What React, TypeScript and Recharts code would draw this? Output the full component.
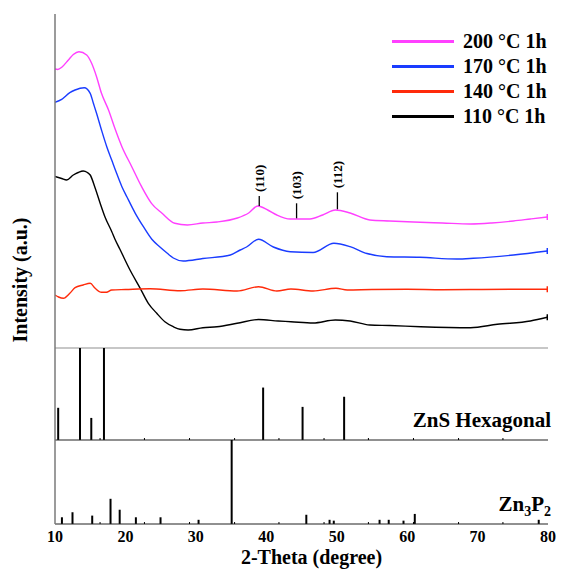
import React from 'react';
import {
  LineChart,
  Line,
  XAxis,
  YAxis,
  Legend,
  ReferenceLine,
  ReferenceDot,
  BarChart,
  Bar,
  Label,
} from 'recharts';

const FONT = "'Liberation Serif', 'Times New Roman', Times, serif";

// ---- XRD patterns (2-theta in degrees, intensity in a.u., stacked offsets included) ----
const theta200 = [10.0, 10.4, 11.0, 11.9, 12.6, 13.4, 14.5, 15.2, 15.9, 16.6, 17.6, 18.5, 19.5, 20.9, 22.3, 23.7, 25.2, 27.0, 28.8, 31.0, 33.0, 35.9, 37.5, 38.8, 40.2, 41.5, 43.4, 46.2, 48.0, 49.8, 51.9, 54.7, 57.5, 60.9, 65.0, 69.0, 72.0, 75.1, 77.5, 79.9];
const int200 = [279, 278.5, 281, 288, 293.5, 296.3, 293, 284.7, 271.3, 254.7, 238, 219.7, 201.3, 181.3, 161.3, 144.7, 134.7, 124.7, 123, 125, 126, 130, 135, 142, 138, 133, 129, 129, 133, 138, 135, 128, 127, 126, 125, 124, 125, 127, 129, 131];

const theta170 = [10.0, 10.95, 12.1, 12.85, 14.15, 15.0, 15.45, 15.9, 16.6, 17.35, 18.05, 18.75, 19.5, 20.2, 21.4, 22.55, 23.75, 24.9, 25.9, 26.8, 28.2, 31.0, 34.9, 36.3, 37.2, 38.9, 41.0, 43.4, 46.65, 49.6, 51.9, 54.3, 57.1, 61.8, 67.05, 69.4, 75.1, 79.9];
const int170 = [245.7, 248.7, 255.3, 258, 260.3, 254.7, 244.7, 234.7, 218, 201.3, 188, 174.7, 161.3, 151.3, 134.7, 121.3, 108.7, 101, 95, 90, 87, 89.5, 93, 98, 101, 108.7, 101, 96.3, 95.5, 104.7, 101.3, 94.5, 91.3, 90.7, 89, 89.7, 93, 97];

const theta140 = [10.0, 10.5, 11.2, 12.1, 12.85, 14.0, 15.0, 15.7, 16.6, 17.3, 18.05, 20.0, 23.5, 27.8, 31.0, 35.85, 38.9, 41.5, 43.5, 46.65, 49.9, 51.5, 55.0, 60.0, 65.0, 70.0, 75.0, 79.9];
const int140 = [53, 51, 49.7, 54.7, 60.3, 63, 64.7, 59.7, 55.7, 55.7, 58, 58.5, 59.3, 57.3, 59, 57, 61.3, 57, 59, 57, 59.7, 58, 58.5, 58.7, 58.3, 58.5, 58.8, 58.7];

const theta110 = [10.0, 10.95, 11.65, 12.6, 13.3, 14.0, 14.6, 15.0, 15.7, 16.4, 17.1, 18.05, 18.5, 19.2, 20.65, 22.1, 23.25, 24.45, 25.6, 26.8, 27.75, 28.9, 31.0, 33.0, 35.85, 38.9, 41.7, 43.5, 46.65, 49.8, 51.9, 54.7, 57.5, 61.9, 69.0, 72.8, 77.5, 79.9];
const int110 = [171.5, 169.5, 168, 173, 175.5, 177, 175.5, 173, 160, 145, 131, 116.5, 109, 99, 78, 59.7, 44.7, 34.7, 26.3, 21.3, 18.7, 18, 20.3, 21.3, 24.7, 28.5, 27, 26.3, 25, 28, 27, 23, 22.5, 21.3, 20.3, 23.7, 27, 30.7];

const seriesNames = ['110 °C 1h', '140 °C 1h', '170 °C 1h', '200 °C 1h'];
const seriesColors = ['#000000', '#FF2A0A', '#1A3CFF', '#FF40FF'];

// ---- peak annotations ----
const peakLabels = ['(110)', '(103)', '(112)'];
const peakTheta = [39.0, 44.3, 50.1];
const peakFrom = [142, 129.7, 138.7];
const peakTo = [152, 144.7, 155.7];

// ---- reference stick patterns ----
const znsTheta = [10.4, 13.5, 15.1, 16.9, 39.5, 45.1, 51.0];
const znsInt = [35, 100, 24, 100, 57, 36, 47];

const zn3p2Theta = [11.0, 12.5, 15.3, 17.9, 19.2, 21.5, 25.0, 30.4, 35.1, 45.7, 49.0, 49.6, 56.1, 57.4, 59.5, 61.1, 78.7];
const zn3p2Int = [8, 14, 10, 30, 17, 8, 8, 5, 100, 11, 5, 4, 5, 5, 4, 12, 5];

// ---- axis ticks ----
const majorTicks = [10, 20, 30, 40, 50, 60, 70, 80];
const minorTicks = [16.4, 22.7, 29.1, 35.5, 41.8, 48.2, 54.5, 60.9, 67.3, 73.6];

const zip = (xs: number[], ys: number[]) => xs.map((x, i) => ({ theta: x, v: ys[i] }));
const series = [
  { name: seriesNames[0], color: seriesColors[0], data: zip(theta110, int110) },
  { name: seriesNames[1], color: seriesColors[1], data: zip(theta140, int140) },
  { name: seriesNames[2], color: seriesColors[2], data: zip(theta170, int170) },
  { name: seriesNames[3], color: seriesColors[3], data: zip(theta200, int200) },
];
const znsData = znsTheta.map((t, i) => ({ theta: t, intensity: znsInt[i] }));
const zn3p2Data = zn3p2Theta.map((t, i) => ({ theta: t, intensity: zn3p2Int[i] }));

const W = 563;
// plot spans x = 55 .. 548 ; y-axis strip is 1px wide
const M = { left: 54, right: 15 };
const AXIS_GRAY = '#7a7a7a';

const endCap = (color: string, n: number) => (props: any) =>
  props.index === n - 1 ? (
    <line key={`cap-${props.index}`} x1={props.cx} x2={props.cx} y1={props.cy - 3} y2={props.cy + 3} stroke={color} strokeWidth={1.5} />
  ) : (
    <g key={`nc-${props.index}`} />
  );

const LegendBox = () => (
  <div>
    {[3, 2, 1, 0].map((i) => (
      <div key={i} style={{ display: 'flex', alignItems: 'center', height: 25 }}>
        <span style={{ display: 'inline-block', width: 62, height: 3.4, background: seriesColors[i], marginRight: 9 }} />
        <span style={{ fontFamily: FONT, fontWeight: 'bold', fontSize: 20, lineHeight: '25px', color: '#000', whiteSpace: 'nowrap' }}>
          {seriesNames[i]}
        </span>
      </div>
    ))}
  </div>
);

const minorTickShape = (props: any) => (
  <line x1={props.x} x2={props.x} y1={props.y - 2} y2={props.y} stroke="#000" strokeWidth={1} />
);

const bottomTickShape = (props: any) => {
  const v = props.payload.value;
  if (majorTicks.includes(v)) {
    return (
      <text x={props.x} y={props.y + 7} dy="0.71em" textAnchor="middle" fontFamily={FONT} fontWeight="bold" fontSize={16} fill="#000">
        {v}
      </text>
    );
  }
  return <line x1={props.x} x2={props.x} y1={props.y - 2} y2={props.y} stroke="#000" strokeWidth={1} />;
};

export default function App() {
  return (
    <div style={{ position: 'fixed', left: 0, top: 0, width: W, height: 570, background: '#fff', overflow: 'hidden' }}>
      {/* main XRD panel */}
      <div style={{ position: 'absolute', left: 0, top: 0 }}>
        <LineChart width={W} height={350} margin={{ top: 14, right: M.right, bottom: 1, left: M.left }}>
          <XAxis type="number" dataKey="theta" domain={[10, 80]} allowDataOverflow height={1} tick={false} tickLine={false} axisLine={{ stroke: '#b4b4b4', strokeWidth: 1.5 }} />
          <YAxis type="number" domain={[0, 334]} allowDataOverflow width={1} tick={false} tickLine={false} axisLine={{ stroke: AXIS_GRAY, strokeWidth: 1.5 }} />
          {series.map((s) => (
            <Line
              key={s.name}
              name={s.name}
              data={s.data}
              dataKey="v"
              type="monotone"
              stroke={s.color}
              strokeWidth={1.4}
              dot={endCap(s.color, s.data.length)}
              activeDot={false}
              isAnimationActive={false}
            />
          ))}
          {peakTheta.map((t, i) => (
            <ReferenceLine
              key={`pl-${i}`}
              segment={[
                { x: t, y: peakFrom[i] },
                { x: t, y: peakTo[i] },
              ]}
              stroke="#000"
              strokeWidth={1.3}
              ifOverflow="visible"
            />
          ))}
          {peakTheta.map((t, i) => (
            <ReferenceDot
              key={`pt-${i}`}
              x={t}
              y={peakTo[i]}
              r={0}
              ifOverflow="visible"
              shape={(p: any) => (
                <text
                  x={p.cx}
                  y={p.cy - 4}
                  transform={`rotate(-90 ${p.cx} ${p.cy - 4})`}
                  textAnchor="start"
                  dominantBaseline="central"
                  fontFamily={FONT}
                  fontWeight="bold"
                  fontSize={13}
                  fill="#000"
                >
                  {peakLabels[i]}
                </text>
              )}
            />
          ))}
          <Legend
            layout="horizontal"
            verticalAlign="middle"
            align="center"
            wrapperStyle={{ position: 'absolute', top: 29, left: 392, width: 170, height: 100 }}
            content={() => <LegendBox />}
          />
        </LineChart>
      </div>

      {/* ZnS hexagonal reference */}
      <div style={{ position: 'absolute', left: 0, top: 348 }}>
        <BarChart width={W} height={94} data={znsData} barSize={2} margin={{ top: 0, right: M.right, bottom: 1, left: M.left }}>
          <XAxis type="number" dataKey="theta" domain={[10, 80]} allowDataOverflow height={1} ticks={minorTicks} interval={0} tickLine={false} tickSize={0} tickMargin={0} tick={minorTickShape} axisLine={{ stroke: '#222', strokeWidth: 1.2 }} />
          <YAxis type="number" domain={[0, 100]} allowDataOverflow width={1} tick={false} tickLine={false} axisLine={{ stroke: AXIS_GRAY, strokeWidth: 1.5 }} />
          <Bar dataKey="intensity" fill="#000" isAnimationActive={false} />
        </BarChart>
      </div>

      {/* Zn3P2 reference */}
      <div style={{ position: 'absolute', left: 0, top: 440 }}>
        <BarChart width={W} height={130} data={zn3p2Data} barSize={2} margin={{ top: 0, right: M.right, bottom: 0, left: M.left }}>
          <XAxis
            type="number"
            dataKey="theta"
            domain={[10, 80]}
            allowDataOverflow
            height={46}
            ticks={[...majorTicks, ...minorTicks].sort((a, b) => a - b)}
            interval={0}
            tickLine={false}
            tickSize={0}
            tickMargin={0}
            tick={bottomTickShape}
            axisLine={{ stroke: '#222', strokeWidth: 1.2 }}
          >
            <Label value="2-Theta (degree)" position="insideBottom" offset={6.5} dx={10} fontFamily={FONT} fontWeight="bold" fontSize={20} fill="#000" />
          </XAxis>
          <YAxis type="number" domain={[0, 100]} allowDataOverflow width={1} tick={false} tickLine={false} axisLine={{ stroke: AXIS_GRAY, strokeWidth: 1.5 }} />
          <Bar dataKey="intensity" fill="#000" isAnimationActive={false} />
        </BarChart>
      </div>

      {/* titles */}
      <svg width={W} height={570} style={{ position: 'absolute', left: 0, top: 0, pointerEvents: 'none' }}>
        <text transform="translate(27,280) rotate(-90)" x={0} y={0} textAnchor="middle" fontFamily={FONT} fontWeight="bold" fontSize={20} fill="#000">
          Intensity (a.u.)
        </text>
        <text x={551} y={427} textAnchor="end" fontFamily={FONT} fontWeight="bold" fontSize={21} fill="#000">
          ZnS Hexagonal
        </text>
        <text x={551} y={511} textAnchor="end" fontFamily={FONT} fontWeight="bold" fontSize={21} fill="#000">
          Zn<tspan dy={5} fontSize={14}>3</tspan>
          <tspan dy={-5}>P</tspan>
          <tspan dy={5} fontSize={14}>2</tspan>
        </text>
      </svg>
    </div>
  );
}
